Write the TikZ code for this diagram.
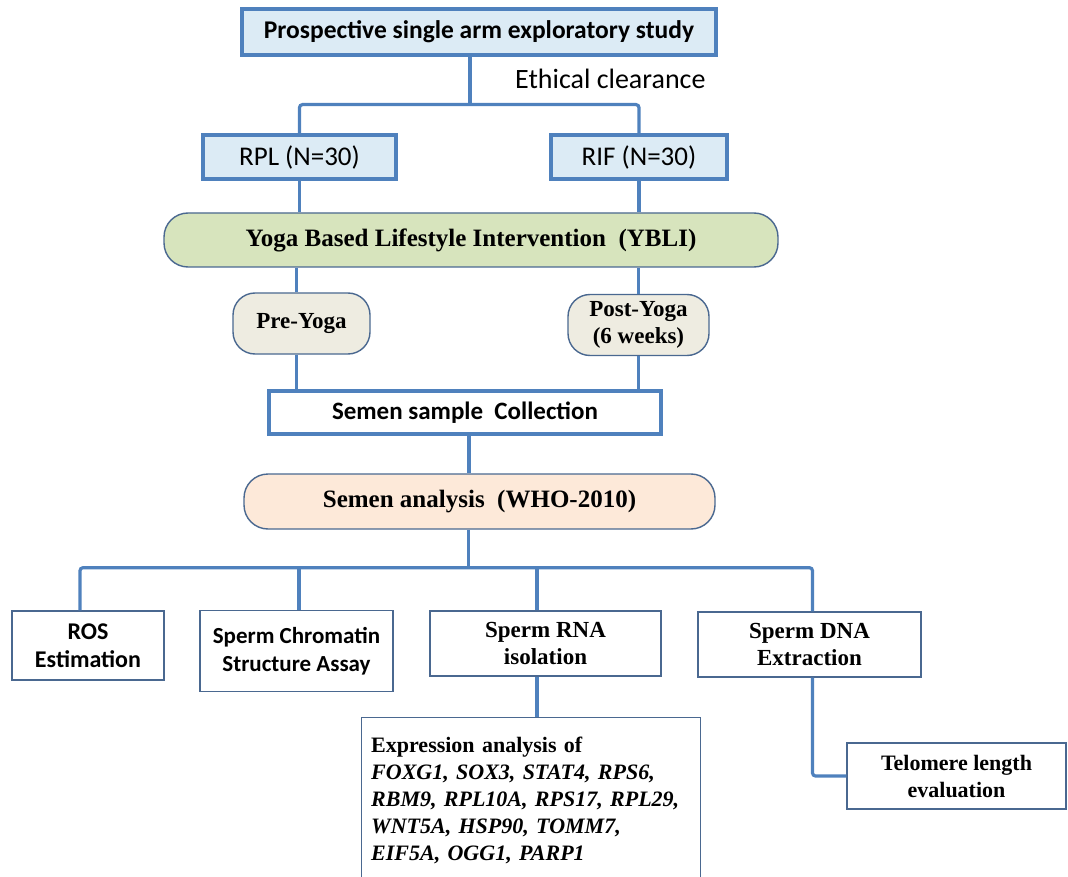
\documentclass[tikz,border=0pt]{standalone}
\usepackage{fontspec}
\setmainfont{Liberation Serif}
\newfontfamily\carl{Carlito}
\usetikzlibrary{calc}
\definecolor{lineblue}{HTML}{4F81BD}
\definecolor{thinblue}{HTML}{4A6890}
\definecolor{boxfill}{HTML}{DCEBF5}
\definecolor{greenfill}{HTML}{D7E4BD}
\definecolor{greyfill}{HTML}{EEECE1}
\definecolor{peachfill}{HTML}{FDE9D9}
\tikzset{
  conn/.style={draw=lineblue,line width=3.2pt,rounded corners=3pt},
  bluebox/.style={draw=lineblue,line width=3.2pt,fill=boxfill,inner sep=0pt,align=center},
  whitebox/.style={draw=lineblue,line width=3.2pt,fill=white,inner sep=0pt,align=center},
  pill/.style={draw=thinblue,line width=1.4pt,rounded corners=24pt,inner sep=0pt,align=center},
  thinbox/.style={draw=thinblue,line width=1.4pt,fill=white,inner sep=0pt,align=center},
}
\begin{document}
\begin{tikzpicture}[x=1pt,y=-1pt]
\useasboundingbox (0,0) rectangle (1068,877);
\clip (0,0) rectangle (1068,877);
% top
\node[bluebox,minimum width=474pt,minimum height=46pt,font=\carl\bfseries\fontsize{25.5}{30}\selectfont] (top) at (479,32) {Prospective single arm exploratory study};
\node[anchor=west,inner sep=0pt,font=\carl\fontsize{28}{32}\selectfont] (eth) at (515,79) {Ethical clearance};
\node[bluebox,minimum width=193pt,minimum height=44pt,font=\carl\fontsize{27}{32}\selectfont] (rpl) at (299.5,157) {RPL (N=30)};
\node[bluebox,minimum width=176pt,minimum height=44pt,font=\carl\fontsize{27}{32}\selectfont] (rif) at (639,157) {RIF (N=30)};
\node[pill,fill=greenfill,minimum width=614pt,minimum height=54pt,font=\bfseries\fontsize{25}{30}\selectfont] (ybli) at (471,240) {Yoga Based Lifestyle Intervention\ \ (YBLI)};
\node[pill,fill=greyfill,rounded corners=22pt,minimum width=137pt,minimum height=61pt,font=\bfseries\fontsize{23}{27}\selectfont] (pre) at (301.5,323.5) {Pre-Yoga};
\node[pill,fill=greyfill,rounded corners=22pt,minimum width=141pt,minimum height=61pt,font=\bfseries\fontsize{23}{26.5}\selectfont] (post) at (638.5,325) {Post-Yoga\\(6 weeks)};
\node[whitebox,minimum width=392pt,minimum height=43pt,font=\carl\bfseries\fontsize{25}{30}\selectfont] (sample) at (465,412.5) {Semen sample\ \ Collection};
\node[pill,fill=peachfill,minimum width=471pt,minimum height=55pt,font=\bfseries\fontsize{25}{30}\selectfont] (analysis) at (479.5,501.5) {Semen analysis\ \ (WHO-2010)};
% bottom row
\node[thinbox,minimum width=152pt,minimum height=69pt,font=\carl\bfseries\fontsize{24}{28}\selectfont] (ros) at (88,645.5) {ROS\\Estimation};
\node[thinbox,minimum width=193pt,minimum height=81pt,font=\carl\bfseries\fontsize{23}{28}\selectfont] (chrom) at (296.5,651) {Sperm Chromatin\\Structure Assay};
\node[thinbox,minimum width=231pt,minimum height=65pt,font=\bfseries\fontsize{23}{27}\selectfont] (rna) at (545.5,643.5) {Sperm RNA\\isolation};
\node[thinbox,minimum width=223pt,minimum height=65pt,font=\bfseries\fontsize{23}{27}\selectfont] (dna) at (809.5,644.5) {Sperm DNA\\Extraction};
\node[thinbox,minimum width=219pt,minimum height=66pt,font=\bfseries\fontsize{22}{27}\selectfont] (telo) at (956.5,776) {Telomere length\\evaluation};
\node[thinbox,anchor=north west,minimum width=339pt,minimum height=200pt] (expr) at (361,717) {};
\node[anchor=north west,inner sep=0pt,text width=330pt,align=left,font=\bfseries\fontsize{22}{27}\selectfont] (exprtext) at ($(expr.north west)+(10,20)$) {Expression analysis of\\
\textit{FOXG1, SOX3, STAT4, RPS6,}\\
\textit{RBM9, RPL10A, RPS17, RPL29,}\\
\textit{WNT5A, HSP90, TOMM7,}\\
\textit{EIF5A, OGG1, PARP1}};
% connectors
\coordinate (b1) at ($(top.south)+(-9,48)$);
\draw[conn] ($(top.south)+(-9,0)$) -- (b1);
\draw[conn] (rpl.north) |- (b1) -| (rif.north);
\draw[conn] (rpl.south) -- (rpl.south |- ybli.north);
\draw[conn] (rif.south) -- (rif.south |- ybli.north);
\draw[conn] ($(pre.north)+(-5,0)$) -- ($(pre.north |- ybli.south)+(-5,0)$);
\draw[conn] (post.north) -- (post.north |- ybli.south);
\draw[conn] ($(pre.south)+(-5,0)$) -- ($(pre.south |- sample.north)+(-5,0)$);
\draw[conn] (post.south) -- (post.south |- sample.north);
\draw[conn] ($(sample.south)+(4,0)$) -- ($(sample.south |- analysis.north)+(4,0)$);
\coordinate (b2) at ($(analysis.south)+(-11,38)$);
\draw[conn] ($(analysis.south)+(-11,0)$) -- (b2);
\draw[conn] ($(ros.north)+(-8,0)$) |- (b2) -| ($(dna.north)+(3,0)$);
\draw[conn] ($(chrom.north)+(2.5,0)$) -- ($(chrom.north |- b2)+(2.5,0)$);
\draw[conn] ($(rna.north)+(-8.5,0)$) -- ($(rna.north |- b2)+(-8.5,0)$);
\draw[conn] ($(rna.south)+(-8.5,0)$) -- ($(rna.south |- expr.north)+(-8.5,0)$);
\draw[conn] ($(dna.south)+(3,0)$) |- (telo.west);
\end{tikzpicture}
\end{document}
